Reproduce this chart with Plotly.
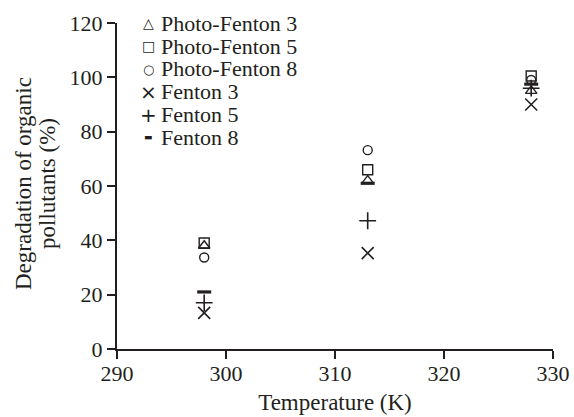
import plotly.graph_objects as go

temperature = [298, 313, 328]

series_names = ["Photo-Fenton 3", "Photo-Fenton 5", "Photo-Fenton 8",
                "Fenton 3", "Fenton 5", "Fenton 8"]
photo_fenton_3 = [38, 62, 95]
photo_fenton_5 = [39, 66, 100.5]
photo_fenton_8 = [33.7, 73.2, 99]
fenton_3 = [13.3, 35.3, 90]
fenton_5 = [17, 47.2, 96]
fenton_8 = [21, 61, 97.5]

x_ticks = [290, 300, 310, 320, 330]
y_ticks = [0, 20, 40, 60, 80, 100, 120]
x_title = "Temperature (K)"
y_title_lines = ["Degradation of organic", "pollutants (%)"]

values = [photo_fenton_3, photo_fenton_5, photo_fenton_8, fenton_3, fenton_5, fenton_8]
symbols = ["triangle-up-open", "square-open", "circle-open",
           "x-thin-open", "cross-thin-open", "line-ew-open"]
legend_glyphs = ["\u25b3", "\u25a1", "\u25cb", "\u00d7", "+", "\u25ac"]
glyph_sizes = [14, 14, 13, 20, 20, 9]
sizes = [10, 10, 9, 12, 12, 10]
widths = [1.4, 1.4, 1.4, 1.6, 1.6, 3.2]

ink = "#231f20"
serif = "Liberation Serif"

fig = go.Figure()
for name, vals, sym, sz, w in zip(series_names, values, symbols, sizes, widths):
    fig.add_trace(go.Scatter(
        x=temperature, y=vals, mode="markers", name=name, showlegend=False,
        marker=dict(symbol=sym, size=sz, color=ink,
                    line=dict(color=ink, width=w)),
    ))

# Legend drawn as text (tight line spacing as in the reference)
row_gap = 22.8
for i, (name, glyph, gs) in enumerate(zip(series_names, legend_glyphs, glyph_sizes)):
    fig.add_annotation(xref="paper", yref="paper", x=0, y=1, xanchor="center", yanchor="middle",
                       xshift=31, yshift=-0.3 - row_gap * i, showarrow=False, text=glyph,
                       height=20, borderpad=0,
                       font=dict(family="DejaVu Sans", size=gs, color=ink))
    fig.add_annotation(xref="paper", yref="paper", x=0, y=1, xanchor="left", yanchor="middle",
                       xshift=43, yshift=-0.3 - row_gap * i, showarrow=False, text=name,
                       height=21, borderpad=0, valign="middle",
                       font=dict(family=serif, size=22, color=ink))

# Two-line y-axis title with tight line spacing
for line, xs in zip(y_title_lines, [-94, -70]):
    fig.add_annotation(xref="paper", yref="paper", x=0, y=0.5, xanchor="center", yanchor="middle",
                       xshift=xs, yshift=2, textangle=-90, showarrow=False, text=line,
                       font=dict(family=serif, size=23, color=ink))

fig.update_layout(
    width=574, height=417,
    margin=dict(l=117, r=21, t=23, b=68),
    paper_bgcolor="white", plot_bgcolor="white",
    font=dict(family=serif, size=22, color=ink),
    showlegend=False,
    xaxis=dict(range=[290, 330], tickvals=x_ticks, showgrid=False, zeroline=False,
               showline=True, linecolor=ink, linewidth=2, ticks="outside",
               ticklen=8, tickwidth=2, tickcolor=ink, tickfont=dict(size=22),
               automargin=False, ticklabelstandoff=-4,
               title=dict(text=x_title, standoff=8, font=dict(size=23))),
    yaxis=dict(range=[0, 120], tickvals=y_ticks, showgrid=False, zeroline=False,
               showline=True, linecolor=ink, linewidth=2, ticks="outside",
               ticklen=8, tickwidth=2, tickcolor=ink, tickfont=dict(size=22),
               automargin=False),
)

fig.write_html("out.html", config={"displayModeBar": False},
               post_script="document.body.style.margin='0';")
